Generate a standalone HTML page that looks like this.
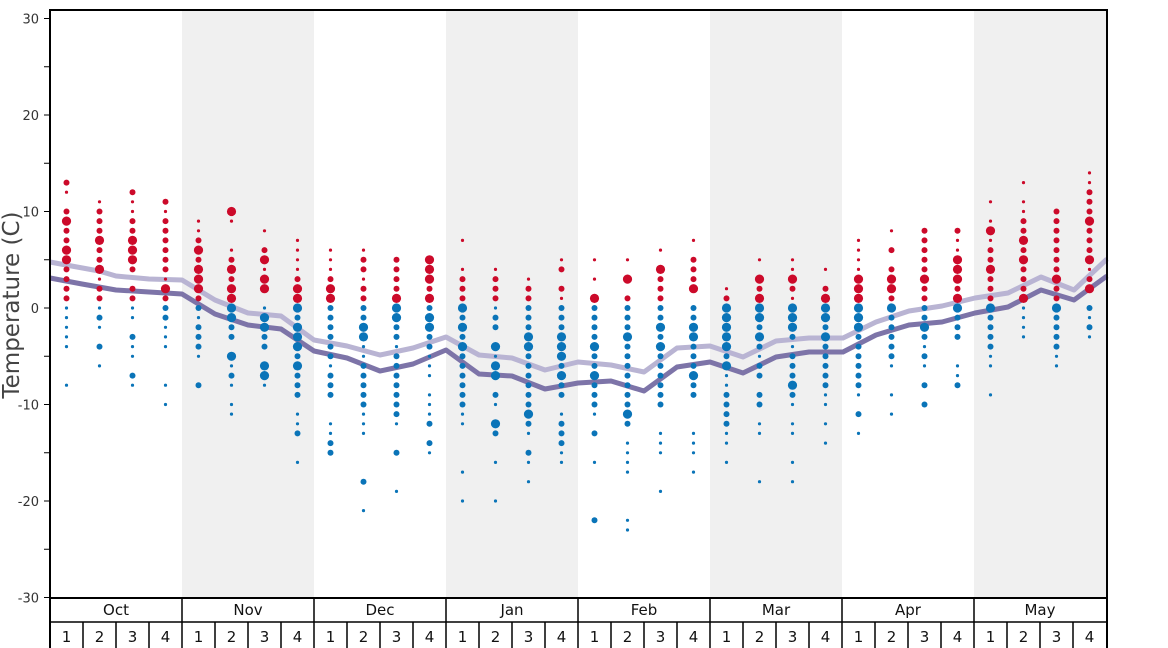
<!DOCTYPE html>
<html><head><meta charset="utf-8"><style>
html,body{margin:0;padding:0;background:#fff;}
svg{display:block;font-family:"DejaVu Sans","Liberation Sans",sans-serif;}
</style></head><body>
<svg id="c" width="1168" height="648" xmlns="http://www.w3.org/2000/svg"></svg>
<script>
const s=document.getElementById('c');
let h='';
const X0=50,X1=1107,W=33;
const Y=t=>308-t*9.65;
// shaded bands
[1,3,5,7].forEach(m=>{h+=`<rect x="${X0+m*132}" y="10" width="132" height="588" fill="#f0f0f0"/>`;});
// lines
const light=[[50,262],[66,265],[99,271],[116,276],[149,279],[182,280],[215,300],[248,313],[281,316],[314,340],[347,346],[380,355],[413,348],[446,337],[479,355],[512,358],[545,370],[578,362],[611,365],[644,372],[677,348],[710,346],[743,357],[776,341],[809,338],[843,338],[876,322],[909,311],[942,306],[975,298],[1008,293],[1041,277],[1074,290],[1107,259]];
const dark=[[50,278],[82,284],[116,290],[149,292],[182,294],[215,314],[248,325],[281,329],[314,351],[347,358],[380,371],[413,364],[446,350],[479,374],[512,376],[545,389],[578,383],[611,381],[644,391],[677,367],[710,362],[743,373],[776,357],[809,352],[843,352],[876,335],[909,325],[942,322],[975,313],[1008,307],[1041,290],[1074,300],[1107,276]];
h+=`<polyline points="${light.map(p=>p.join(',')).join(' ')}" fill="none" stroke="#b9b4d3" stroke-width="5" stroke-linejoin="round"/>`;
h+=`<polyline points="${dark.map(p=>p.join(',')).join(' ')}" fill="none" stroke="#7d74a8" stroke-width="5" stroke-linejoin="round"/>`;
const D=`13m 12s 10m 9L 8m 7m 6L 5L 4m 3m 2m 1m 0s -1s -2s -3s -4s -8s
11s 10m 9m 8m 7L 6m 5m 4L 3s 2m 1m 0s -1m -2s -4m -6s
12m 11s 10s 9m 8m 7L 6L 5L 4m 2m 1m 0s -1s -3m -4s -5s -7m -8s
11m 10s 9m 8m 7m 6m 5m 4m 3s 2L 1m 0m -1m -2s -3s -4s -8s -10s
9s 8s 7m 6L 5m 4L 3L 2L 1m 0m -1s -2m -3m -4m -5s -8m
10L 9s 6s 5m 4L 3m 2L 1L 0L -1L -2m -3m -5L -6s -7m -8s -10s -11s
8s 6m 5L 4s 3L 2L 0s -1L -2L -3m -4m -6L -7L -8s
7s 6s 5s 4s 3m 2L 1L 0L -1m -2L -3L -4L -5m -6L -7m -8m -9m -11s -12s -13m -16s
6s 5s 4s 3m 2L 1L 0m -1m -2m -3m -4m -5m -6s -7m -8m -9m -12s -13s -14m -15m
6s 5m 4m 3s 2m 1m 0m -1m -2L -3L -4s -5s -6m -7m -8m -9m -10m -11s -12s -13s -18m -21s
5m 4m 3m 2m 1L 0L -1L -2m -3m -4s -5m -6m -7m -8m -9m -10m -11m -12s -15m -19s
5L 4L 3L 2m 1L 0m -1L -2L -3m -4m -5s -6s -7s -9s -10s -11s -12m -14m -15s
7s 4s 3m 2m 1m 0L -1m -2L -3m -4L -5m -6m -7m -8m -9m -10m -11s -12s -17s -20s
4s 3m 2m 1m 0s -1m -2m -4L -5s -6L -7L -9m -10s -12L -13m -16s -20s
3s 2m 1m 0m -1m -2m -3L -4L -5m -6m -7m -8m -9m -10m -11L -12m -13s -15m -16s -18s
5s 4m 2m 1s 0m -1m -2m -3L -4L -5L -6m -7L -8m -9m -11s -12m -13m -14m -15s -16s
5s 3s 1L 0m -1m -2m -3m -4L -5m -6m -7L -8m -9m -10m -11s -13m -16s -22m
5s 3L 1m 0m -1m -2m -3L -4m -5m -6m -7m -8m -9m -10m -11L -12m -14s -15s -16s -17s -22s -23s
6s 4L 3m 2m 1m 0m -1m -2L -3m -4L -5m -6m -7m -8m -9m -10m -13s -14s -15s -19s
7s 5m 4m 3m 2L 0m -1m -2L -3L -4m -5m -6m -7L -8m -9m -13s -14s -15s -17s
2s 1m 0L -1L -2L -3L -4L -5m -6L -7s -8s -9m -10m -11m -12m -13s -14s -16s
5s 3L 2m 1L 0L -1L -2m -3L -4m -5s -6m -7m -9m -10m -12s -13s -18s
5s 4s 3L 2m 1s 0L -1L -2L -3m -4s -5m -6m -7m -8L -9m -10s -12s -13s -16s -18s
4s 2m 1L 0L -1L -2m -3L -4m -5m -6m -7m -8m -9s -10s -12s -14s
7s 6s 5s 4s 3L 2L 1L 0L -1L -2L -3m -4m -5m -6m -7m -8m -9s -11m -13s
8s 6m 4m 3L 2L 1m 0L -1m -2m -3m -4m -5m -6s -9s -11s
8m 7m 6m 5m 4m 3L 2m 1m 0m -1m -2L -3m -4s -5m -6s -8m -10m
8m 7s 6s 5L 4L 3L 2m 1L 0L -1m -2m -3m -6s -7s -8m
11s 9s 8L 7s 6m 5m 4L 3m 2m 1m 0L -1m -2m -3m -4m -5s -6s -9s
13s 11s 10s 9m 8m 7L 6m 5L 4m 3m 2m 1L 0s -1s -2s -3s
10m 9m 8m 7m 6m 5m 4m 3L 2m 1m 0L -1m -2m -3m -4m -5s -6s
14s 13s 12m 11m 10m 9L 8m 7m 6m 5L 4s 3m 2L 0m -1s -2m -3s`.split('\n');
const R={s:1.6,m:3,L:4.6};
D.forEach((line,i)=>{const x=X0+16.5+W*i;line.trim().split(/\s+/).forEach(tok=>{const t=parseFloat(tok),r=R[tok.slice(-1)];h+=`<circle cx="${x}" cy="${Y(t).toFixed(1)}" r="${r}" fill="${t>0?'#cc0a2a':'#0a74b8'}"/>`;});});
// frame
h+=`<rect x="50" y="10" width="1057" height="588" fill="none" stroke="#000" stroke-width="2"/>`;
// y ticks
for(let t=-30;t<=30;t+=5){const y=Y(t);h+=`<line x1="44" x2="50" y1="${y}" y2="${y}" stroke="#000" stroke-width="1"/>`;if(t%10==0)h+=`<text x="39" y="${y+5}" text-anchor="end" font-size="13" fill="#333">${t}</text>`;}
h+=`<text transform="translate(19,305) rotate(-90)" text-anchor="middle" font-size="23" fill="#444">Temperature (C)</text>`;
// bottom axis
h+=`<line x1="50" x2="1107" y1="622" y2="622" stroke="#000" stroke-width="1.5"/>`;
h+=`<line x1="50" x2="50" y1="598" y2="648" stroke="#000" stroke-width="2"/><line x1="1107" x2="1107" y1="598" y2="648" stroke="#000" stroke-width="2"/>`;
['Oct','Nov','Dec','Jan','Feb','Mar','Apr','May'].forEach((m,i)=>{const x=X0+132*i;h+=`<line x1="${x}" x2="${x}" y1="598" y2="648" stroke="#000" stroke-width="1.5"/><text x="${x+66}" y="615" text-anchor="middle" font-size="15" fill="#111">${m}</text>`;
for(let w=0;w<4;w++){const wx=x+33*w;if(w)h+=`<line x1="${wx}" x2="${wx}" y1="622" y2="648" stroke="#000" stroke-width="1.5"/>`;h+=`<text x="${wx+16.5}" y="642" text-anchor="middle" font-size="15" fill="#111">${w+1}</text>`;}});
s.innerHTML=h;
</script>
</body></html>
